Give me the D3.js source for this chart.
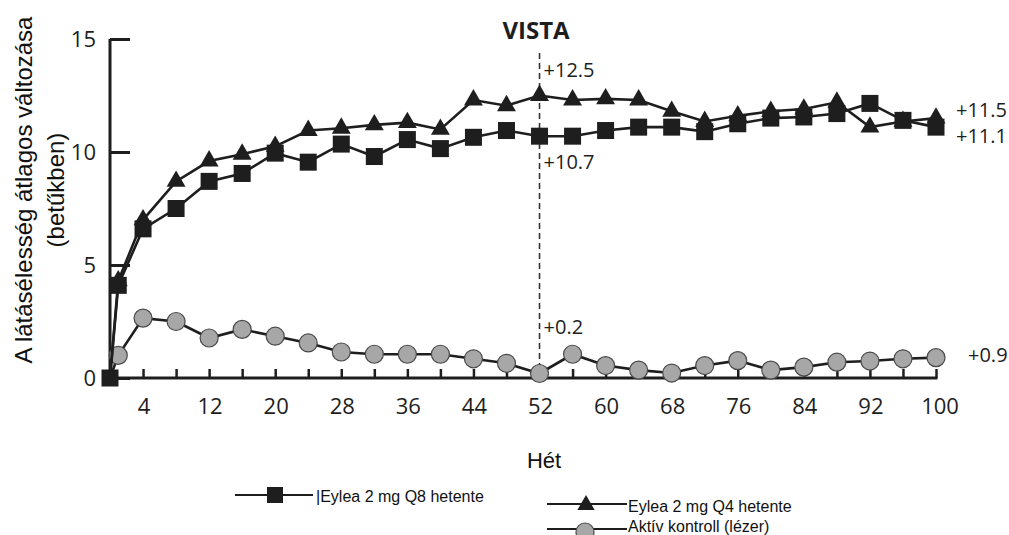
<!DOCTYPE html>
<html>
<head>
<meta charset="utf-8">
<script src="https://cdn.jsdelivr.net/npm/d3@7"></script>
<style>
  html, body { margin: 0; padding: 0; background: #fff; }
  svg { display: block; }
</style>
</head>
<body>
<svg id="chart" width="1009" height="535"></svg>
<script>
// ---- data ----
const weeks = [0, 1, 4, 8, 12, 16, 20, 24, 28, 32, 36, 40, 44, 48, 52, 56, 60, 64, 68, 72, 76, 80, 84, 88, 92, 96, 100];
const q8Values = [0, 4.1, 6.6, 7.5, 8.7, 9.05, 9.95, 9.55, 10.35, 9.8, 10.55, 10.15, 10.65, 10.95, 10.7, 10.7, 10.95, 11.1, 11.1, 10.9, 11.25, 11.5, 11.55, 11.7, 12.15, 11.4, 11.1];
const q4Values = [0, 4.3, 7.0, 8.7, 9.6, 9.9, 10.25, 10.95, 11.05, 11.2, 11.3, 11.0, 12.3, 12.05, 12.5, 12.3, 12.35, 12.3, 11.8, 11.35, 11.6, 11.8, 11.9, 12.2, 11.1, 11.35, 11.5];
const laserValues = [0, 1.0, 2.65, 2.5, 1.77, 2.15, 1.85, 1.55, 1.15, 1.05, 1.05, 1.05, 0.85, 0.65, 0.2, 1.05, 0.55, 0.35, 0.22, 0.55, 0.77, 0.35, 0.48, 0.7, 0.75, 0.85, 0.9];
const yTicks = [0, 5, 10, 15];
const xMinorTicks = d3.range(4, 101, 4);
const xLabelTicks = [4, 12, 20, 28, 36, 44, 52, 60, 68, 76, 84, 92, 100];
const title = "VISTA";
const xTitle = "Hét";
const yTitleLines = ["A látásélesség átlagos változása", "(betűkben)"];
const markerWeek = 52;
const annotations52 = [
  { text: "+12.5", value: 12.5 },
  { text: "+10.7", value: 10.7 },
  { text: "+0.2", value: 0.2 }
];
const endLabels = [
  { text: "+11.5", value: 11.5 },
  { text: "+11.1", value: 11.1 },
  { text: "+0.9", value: 0.9 }
];
const legendLabels = ["|Eylea 2 mg Q8 hetente", "Eylea 2 mg Q4 hetente", "Aktív kontroll (lézer)"];

// ---- layout ----
const svg = d3.select("#chart");
const x = d3.scaleLinear().domain([0, 100]).range([110, 936]);
const y = d3.scaleLinear().domain([0, 15]).range([378, 39]);
const ink = "#1e1e1e";
const tickFont = "'Open Sans', sans-serif";

// y axis
const yAxis = d3.axisRight(y).tickValues(yTicks).tickSize(20).tickFormat("");
const gy = svg.append("g").attr("transform", `translate(${x(0)},0)`).call(yAxis);
gy.select(".domain").attr("d", `M0,${y(15)}V${y(0)}`).attr("stroke", ink).attr("stroke-width", 3);
gy.selectAll(".tick line").attr("stroke", ink).attr("stroke-width", 3);
svg.append("g").selectAll("text").data(yTicks).join("text")
  .attr("x", 96).attr("y", d => y(d)).attr("dy", "0.36em")
  .attr("text-anchor", "end").attr("font-family", tickFont).attr("font-size", 22)
  .attr("fill", ink).text(d => d);

// x axis
const xAxis = d3.axisTop(x).tickValues(xMinorTicks).tickSize(9).tickFormat("");
const gx = svg.append("g").attr("transform", `translate(0,${y(0)})`).call(xAxis);
gx.select(".domain").attr("d", `M${x(0) - 1.5},0H${x(100) + 1.5}`).attr("stroke", ink).attr("stroke-width", 3);
gx.selectAll(".tick line").attr("stroke", ink).attr("stroke-width", 2.5);
svg.append("g").selectAll("text").data(xLabelTicks).join("text")
  .attr("x", d => x(d) + (d === 100 ? 4 : 1)).attr("y", 414)
  .attr("text-anchor", "middle").attr("font-family", tickFont).attr("font-size", 22)
  .attr("fill", ink).text(d => d);

// dashed marker line at week 52
svg.append("line")
  .attr("x1", x(markerWeek)).attr("x2", x(markerWeek))
  .attr("y1", 53).attr("y2", y(0))
  .attr("stroke", "#333").attr("stroke-width", 1.6).attr("stroke-dasharray", "6,4");

// titles
svg.append("text").attr("x", 536).attr("y", 39).attr("text-anchor", "middle")
  .attr("font-family", tickFont).attr("font-weight", 700).attr("font-size", 24)
  .attr("fill", ink).text(title);
svg.append("text").attr("x", 544).attr("y", 468).attr("text-anchor", "middle")
  .attr("font-family", "'Liberation Sans', Arial, sans-serif").attr("font-size", 22)
  .attr("fill", "#111").text(xTitle);
const yt = svg.append("text")
  .attr("transform", "translate(0,190) rotate(-90)")
  .attr("text-anchor", "middle")
  .attr("font-family", "'Liberation Sans', Arial, sans-serif").attr("font-size", 24)
  .attr("fill", "#111");
yTitleLines.forEach((t, i) => {
  yt.append("tspan").attr("x", 0).attr("y", 32 + i * 32).text(t);
});

// series
const line = d3.line().x(d => x(d[0])).y(d => y(d[1]));
function series(values) { return weeks.map((w, i) => [w, values[i]]); }

const laser = series(laserValues);
const q4 = series(q4Values);
const q8 = series(q8Values);

// laser
svg.append("path").datum(laser).attr("d", line).attr("fill", "none")
  .attr("stroke", ink).attr("stroke-width", 2.6);
svg.append("g").selectAll("circle").data(laser.slice(1)).join("circle")
  .attr("cx", d => x(d[0])).attr("cy", d => y(d[1])).attr("r", 9)
  .attr("fill", "#a7a7a7").attr("stroke", "#4a4a4a").attr("stroke-width", 1.2);

// Q4 triangles
const tri = d3.symbol().type(d3.symbolTriangle).size(155);
svg.append("path").datum(q4).attr("d", line).attr("fill", "none")
  .attr("stroke", ink).attr("stroke-width", 2.6);
svg.append("g").selectAll("path").data(q4.slice(1)).join("path")
  .attr("d", tri).attr("transform", d => `translate(${x(d[0])},${y(d[1])})`)
  .attr("fill", ink);

// Q8 squares
const sq = 17;
svg.append("path").datum(q8).attr("d", line).attr("fill", "none")
  .attr("stroke", ink).attr("stroke-width", 2.6);
svg.append("g").selectAll("rect").data(q8).join("rect")
  .attr("x", d => x(d[0]) - sq / 2).attr("y", d => y(d[1]) - sq / 2)
  .attr("width", sq).attr("height", sq).attr("fill", ink);

// annotations
const annFont = 20;
const annOffsets = [-19, 33, -39];
annotations52.forEach((a, i) => {
  svg.append("text")
    .attr("x", x(markerWeek) + 4)
    .attr("y", y(a.value) + annOffsets[i])
    .attr("font-family", tickFont).attr("font-size", annFont).attr("fill", ink)
    .text(a.text);
});
const endOffsets = [-1, 16, 4.5];
endLabels.forEach((a, i) => {
  svg.append("text")
    .attr("x", i === 2 ? 968 : 956).attr("y", y(a.value) + endOffsets[i])
    .attr("font-family", tickFont).attr("font-size", annFont).attr("fill", ink)
    .text(a.text);
});

// legend
const lf = "'Liberation Sans', Arial, sans-serif";
const leg = svg.append("g");
// item 1
leg.append("line").attr("x1", 235).attr("x2", 313).attr("y1", 495).attr("y2", 495).attr("stroke", ink).attr("stroke-width", 2.2);
leg.append("rect").attr("x", 267).attr("y", 487).attr("width", 16).attr("height", 16).attr("fill", ink);
leg.append("text").attr("x", 316).attr("y", 502).attr("font-family", lf).attr("font-size", 16).attr("fill", "#111").text(legendLabels[0]);
// item 2
leg.append("line").attr("x1", 547).attr("x2", 627).attr("y1", 504).attr("y2", 504).attr("stroke", ink).attr("stroke-width", 2.2);
leg.append("path").attr("d", d3.symbol().type(d3.symbolTriangle).size(130)).attr("transform", "translate(586,505)").attr("fill", ink);
leg.append("text").attr("x", 628).attr("y", 512).attr("font-family", lf).attr("font-size", 16).attr("fill", "#111").text(legendLabels[1]);
// item 3
leg.append("line").attr("x1", 547).attr("x2", 627).attr("y1", 529).attr("y2", 529).attr("stroke", ink).attr("stroke-width", 2.2);
leg.append("circle").attr("cx", 585).attr("cy", 532).attr("r", 9).attr("fill", "#a7a7a7").attr("stroke", "#4a4a4a").attr("stroke-width", 1.2);
leg.append("text").attr("x", 628).attr("y", 532).attr("font-family", lf).attr("font-size", 16).attr("fill", "#111").text(legendLabels[2]);
</script>
</body>
</html>
